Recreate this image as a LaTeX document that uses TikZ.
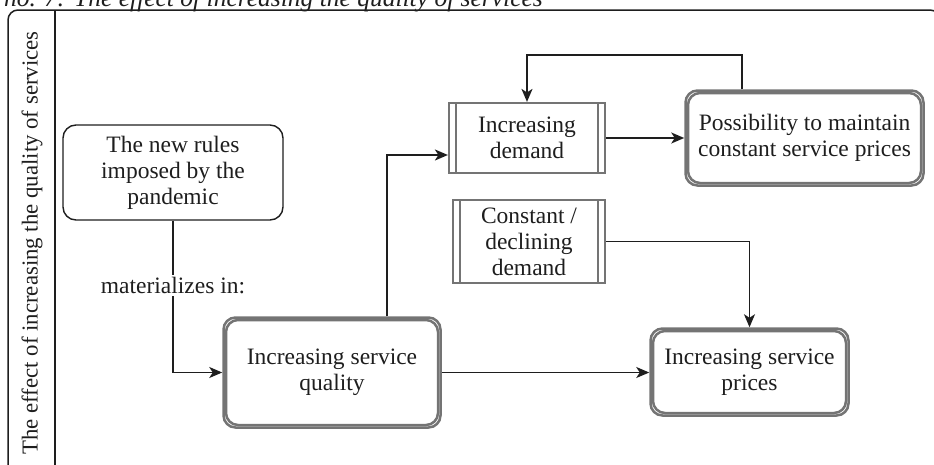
\documentclass[tikz,border=0pt]{standalone}
\usepackage{fontspec}
\setmainfont{Liberation Serif}
\usetikzlibrary{arrows.meta,calc}

\definecolor{ink}{HTML}{1E1E1E}
\definecolor{rim}{HTML}{747474}

\tikzset{
  txt/.style={font=\fontsize{23.5}{26}\selectfont, text=ink, align=center, inner sep=0pt},
  plainbox/.style={txt, draw=ink, line width=1.4pt, rounded corners=13pt, fill=white},
  dblbox/.style={txt, draw=rim, line width=2.5pt, rounded corners=12pt, fill=white,
    path picture={\draw[draw=rim, line width=2.5pt, rounded corners=12pt]
      ([shift={(2.5pt,2.5pt)}]path picture bounding box.south west) rectangle
      ([shift={(-2.5pt,-2.5pt)}]path picture bounding box.north east);}},
  procbox/.style={txt, draw=rim, line width=2.2pt, fill=white,
    path picture={\draw[draw=rim, line width=2.2pt]
      ([xshift=7pt]path picture bounding box.north west) --
      ([xshift=7pt]path picture bounding box.south west)
      ([xshift=-7pt]path picture bounding box.north east) --
      ([xshift=-7pt]path picture bounding box.south east);}},
  conn/.style={draw=ink, line width=1.6pt, -{Stealth[length=13pt,width=11pt,inset=3.5pt]}},
  frameline/.style={draw=ink, line width=1.5pt},
  lbl/.style={txt, fill=white, inner sep=2pt}
}

\begin{document}
\begin{tikzpicture}[x=1pt,y=-1pt]
  \useasboundingbox (0,0) rectangle (934,464);
  \clip (0,0) rectangle (934,464);

  % caption line running along the top edge
  \node[anchor=base east, inner sep=0pt, text=ink,
        font=\fontsize{25.5}{29}\selectfont\itshape] (cap) at (543,6.5)
        {no. 7: The effect of increasing the quality of services};

  % swimlane frame with its title column
  \draw[frameline, rounded corners=10pt] (8,490) -- (8,10) -- (940,10) -- (940,490);
  \draw[frameline] (55,10) -- (55,490);
  \node[txt, rotate=90, font=\fontsize{22.8}{26}\selectfont] (lane) at (32,243)
        {The effect of increasing the quality of services};

  % boxes
  \node[plainbox, minimum width=220pt, minimum height=95pt] (b1) at (173,172.5)
        {The new rules\\imposed by the\\pandemic};
  \node[dblbox, minimum width=217pt, minimum height=110pt] (b2) at (332,372.5)
        {Increasing service\\quality};
  \node[procbox, minimum width=156pt, minimum height=70pt] (b3) at (527,138)
        {Increasing\\demand};
  \node[dblbox, minimum width=238pt, minimum height=95pt] (b4) at (804.5,138)
        {Possibility to maintain\\constant service prices};
  \node[dblbox, minimum width=198pt, minimum height=87pt] (b5) at (749.5,372)
        {Increasing service\\prices};
  \node[procbox, minimum width=152pt, minimum height=83pt] (b6) at (529,241.5)
        {Constant /\\declining\\demand};

  % connectors
  \draw[conn] (b1.south) |- node[lbl, pos=0.213] (lab) {materializes in:} (b2.west);
  \draw[conn] ([xshift=55pt]b2.north) |- ([yshift=-17pt]b3.west);
  \draw[conn] (b3.east) -- (b3.east -| b4.west);
  \draw[conn] ([xshift=-62.5pt]b4.north) -- ++(0,-34) -| (b3.north);
  \draw[conn] (b6.east) -| (b5.north);
  \draw[conn] (b2.east) -- (b2.east -| b5.west);
\end{tikzpicture}
\end{document}
